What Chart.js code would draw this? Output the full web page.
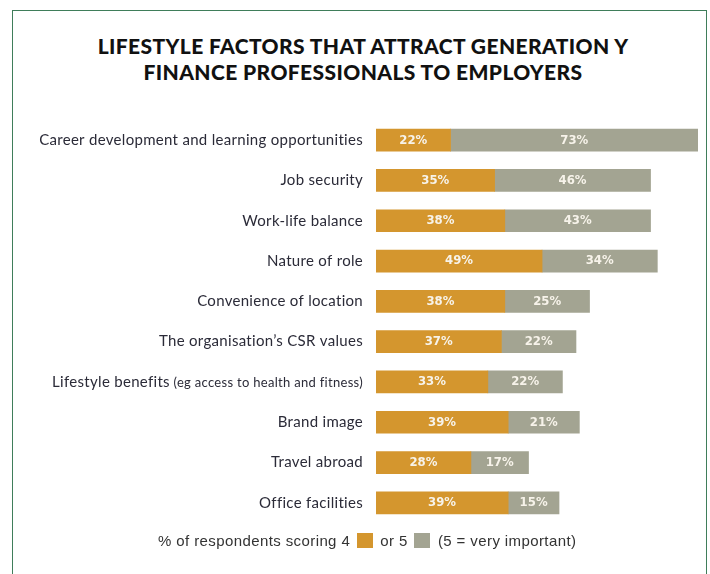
<!DOCTYPE html>
<html>
<head>
<meta charset="utf-8">
<script src="https://cdn.jsdelivr.net/npm/chart.js@4"></script>
<style>
  html, body { margin: 0; padding: 0; background: #fff; }
  body { width: 710px; height: 574px; position: relative; overflow: hidden; }
  #frame {
    position: absolute; left: 12px; top: 10px; width: 695px; height: 600px;
    border: 1.5px solid #3f7d5a; box-sizing: border-box;
  }
  #title {
    position: absolute; left: 12px; width: 702px; top: 33px;
    text-align: center; font-family: Lato, sans-serif; font-weight: 900;
    font-size: 21px; line-height: 26px; color: #111; letter-spacing: 0.4px;
  }
  #wrap { position: absolute; left: 0; top: 0; width: 710px; height: 574px; }
  #legend {
    position: absolute; left: 158px; top: 532px; font-family: "Liberation Sans", Arial, sans-serif;
    font-size: 15px; color: #333; white-space: nowrap; line-height: 18px; letter-spacing: 0.4px;
  }
  #legend .box { display: inline-block; width: 16px; height: 15px; vertical-align: -2px; margin: 0 3px 0 2px; }
</style>
</head>
<body>
<div id="frame"></div>
<div id="title">LIFESTYLE FACTORS THAT ATTRACT GENERATION Y<br>FINANCE PROFESSIONALS TO EMPLOYERS</div>
<div id="wrap"><canvas id="chart" width="710" height="574"></canvas></div>
<div id="legend">% of respondents scoring 4 <span class="box" style="background:#d4962e"></span> or 5 <span class="box" style="background:#a3a492"></span> (5 = very important)</div>
<script>
document.addEventListener('DOMContentLoaded', function () {
    const categories = [
        "Career development and learning opportunities",
        "Job security",
        "Work-life balance",
        "Nature of role",
        "Convenience of location",
        "The organisation\u2019s CSR values",
        "Lifestyle benefits",
        "Brand image",
        "Travel abroad",
        "Office facilities"
    ];
    const categoryNotes = ["", "", "", "", "", "", "(eg access to health and fitness)", "", "", ""];
    const score4 = [22, 35, 38, 49, 38, 37, 33, 39, 28, 39];
    const score5 = [73, 46, 43, 34, 25, 22, 22, 21, 17, 15];

    const orange = "#d4962e";
    const grey = "#a3a492";

    // labels to the left of each bar (one has a smaller note after it)
    const categoryLabels = {
        id: "categoryLabels",
        afterDraw(chart) {
            const ctx = chart.ctx;
            const y = chart.scales.y;
            const right = chart.chartArea.left - 13;
            ctx.save();
            ctx.fillStyle = "#2b2b38";
            ctx.textBaseline = "middle";
            ctx.textAlign = "left";
            ctx.letterSpacing = "0.3px";
            categories.forEach(function (name, i) {
                const py = y.getPixelForValue(i);
                const note = categoryNotes[i];
                ctx.font = "15px Lato, sans-serif";
                const w1 = ctx.measureText(name).width;
                let w2 = 0;
                if (note) {
                    ctx.font = "13px Lato, sans-serif";
                    w2 = ctx.measureText(" " + note).width;
                }
                const x0 = right - w1 - w2;
                ctx.font = "15px Lato, sans-serif";
                ctx.fillText(name, x0, py);
                if (note) {
                    ctx.font = "13px Lato, sans-serif";
                    ctx.fillText(" " + note, x0 + w1, py + 1);
                }
            });
            ctx.restore();
        }
    };

    // percentage text inside the bar segments
    const valueLabels = {
        id: "valueLabels",
        afterDatasetsDraw(chart) {
            const ctx = chart.ctx;
            ctx.save();
            ctx.fillStyle = "#f7f3ea";
            ctx.font = "bold 13px 'DejaVu Sans Condensed', 'DejaVu Sans', sans-serif";
            ctx.textAlign = "center";
            ctx.textBaseline = "middle";
            chart.data.datasets.forEach(function (ds, di) {
                chart.getDatasetMeta(di).data.forEach(function (bar, i) {
                    const cx = (bar.x + bar.base) / 2;
                    ctx.fillText(ds.data[i] + "%", cx, bar.y);
                });
            });
            ctx.restore();
        }
    };

    new Chart(document.getElementById("chart"), {
        type: "bar",
        data: {
            labels: categories,
            datasets: [
                { label: "4", data: score4, backgroundColor: orange, barThickness: 22 },
                { label: "5", data: score5, backgroundColor: grey, barThickness: 22 }
            ]
        },
        options: {
            indexAxis: "y",
            responsive: false,
            animation: false,
            layout: { padding: { left: 376, right: 12, top: 120, bottom: 51 } },
            scales: {
                x: { stacked: true, min: 0, max: 95, display: false },
                y: { stacked: true, display: false }
            },
            plugins: {
                legend: { display: false },
                tooltip: { enabled: false }
            }
        },
        plugins: [categoryLabels, valueLabels]
    });
});
</script>
</body>
</html>
